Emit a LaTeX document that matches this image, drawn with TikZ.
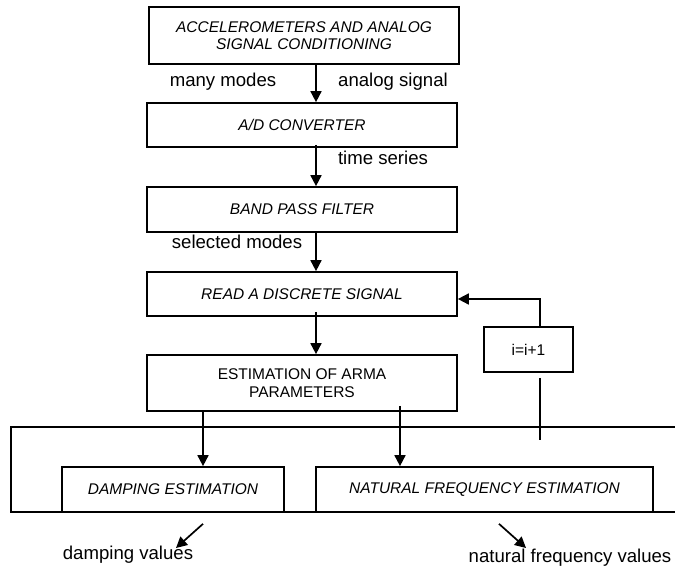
\documentclass[tikz,border=0pt]{standalone}
\usepackage{fontspec}
\setmainfont{Liberation Sans}
\usetikzlibrary{arrows.meta}
\tikzset{stage/.style={draw, line width=1.7pt, inner sep=0pt, align=center,
        font=\fontsize{15.5}{17.5}\selectfont\itshape},
    plainstage/.style={stage, font=\fontsize{15.5}{17.5}\selectfont},
    flow/.style={line width=1.7pt, -{Triangle[length=11pt,width=11pt]}},
    tag/.style={inner sep=0pt, font=\fontsize{18.6}{20}\selectfont},
    }
\begin{document}
\begin{tikzpicture}[x=1pt,y=-1pt]
	\useasboundingbox (0,0) rectangle (675,570);
	% processing chain
	\node[stage, minimum width=310pt, minimum height=57pt] (acc) at (304,35.5) {ACCELEROMETERS AND ANALOG\\SIGNAL CONDITIONING};
	\node[stage, minimum width=310pt, minimum height=44pt] (adc) at (302,125) {A/D CONVERTER};
	\node[stage, minimum width=310pt, minimum height=45pt] (bpf) at (302,209.5) {BAND PASS FILTER};
	\node[stage, minimum width=310pt, minimum height=44pt] (read) at (302,294) {READ A DISCRETE SIGNAL};
	\node[plainstage, minimum width=310pt, minimum height=56pt] (arma) at (302,383) {ESTIMATION OF ARMA\\PARAMETERS};
	\node[plainstage, minimum width=89pt, minimum height=45pt] (incr) at (528.5,349.5) {i=i+1};
	% estimation frame
	\draw[line width=1.7pt] (675,427) -- (11,427) -- (11,512) -- (675,512);
	\node[stage, minimum width=222pt, minimum height=45pt] (damp) at (173,489.5) {DAMPING ESTIMATION};
	\node[stage, minimum width=337pt, minimum height=45pt] (natf) at (484.5,489.5) {NATURAL FREQUENCY ESTIMATION};
	% labels
	\node[tag] (modes) at (223,82) {many modes};
	\node[tag] (analog) at (393,82) {analog signal};
	\node[tag] (tseries) at (383,158) {time series};
	\node[tag] (selmodes) at (237,242) {selected modes};
	\node[tag] (dval) at (128,555) {damping values};
	\node[tag] (nval) at (570,558) {natural frequency values};
	\coordinate (dtip) at (176,548);
	\coordinate (ntip) at (526,548);
	\coordinate (loopend) at (540,440);
	% connectors
	\draw[flow] ([xshift=12pt]acc.south) -- ([xshift=14pt]adc.north);
	\draw[flow] ([xshift=14pt,yshift=3pt]adc.south) -- ([xshift=14pt]bpf.north);
	\draw[flow] ([xshift=14pt]bpf.south) -- ([xshift=14pt]read.north);
	\draw[flow] ([xshift=14pt,yshift=5pt]read.south) -- ([xshift=14pt]arma.north);
	\draw[flow] ([xshift=-99pt]arma.south) -- ([xshift=30pt]damp.north);
	\draw[flow] ([xshift=98pt,yshift=6pt]arma.south) -- ([xshift=-84.5pt]natf.north);
	\draw[flow] ([xshift=11.5pt]incr.north) |- ([yshift=-5pt]read.east);
	\draw[line width=1.7pt] ([xshift=11.5pt,yshift=-5pt]incr.south) -- (loopend);
	\draw[flow] ([xshift=30pt,yshift=-11pt]damp.south) -- (dtip);
	\draw[flow] ([xshift=14.5pt,yshift=-11pt]natf.south) -- (ntip);
\end{tikzpicture}
\end{document}
